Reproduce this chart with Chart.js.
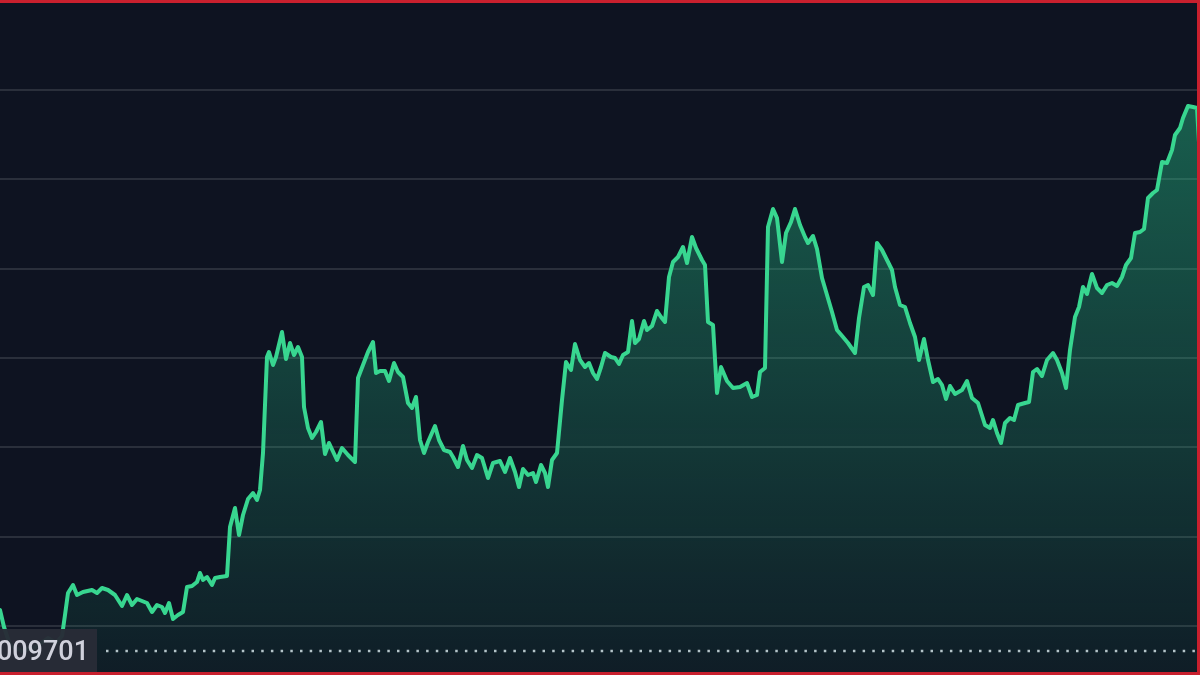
<!DOCTYPE html>
<html>
<head>
<meta charset="utf-8">
<script src="https://cdn.jsdelivr.net/npm/chart.js@4.4.1/dist/chart.umd.min.js"></script>
<style>
    html, body { margin: 0; padding: 0; background: #0e1321; }
    .wrap { position: relative; width: 1200px; height: 675px; overflow: hidden; }
    .frame {
        position: absolute; left: 0; top: 0; right: 0; bottom: 0;
        border-top: 3px solid #c8202e;
        border-right: 3px solid #c8202e;
        border-bottom: 3px solid #c8202e;
        pointer-events: none;
    }
</style>
</head>
<body>
<div class="wrap">
    <canvas id="priceChart" width="1200" height="675"></canvas>
    <div class="frame"></div>
</div>
<script>
// Time offsets (minutes from start) and price in units of 1e-8
const minutes = [
    0, 4, 10, 22, 36, 48, 56, 62, 65, 68, 73, 77, 83, 92, 97, 102, 108, 115, 122, 127,
    132, 137, 142, 147, 152, 157, 162, 165, 169, 173, 178, 183, 187, 192, 197, 200, 203, 207, 212, 215,
    220, 227, 230, 235, 239, 243, 248, 253, 257, 260, 263, 267, 269, 273, 276, 282, 286, 290, 294, 298,
    302, 304, 308, 312, 316, 321, 325, 329, 337, 342, 348, 355, 358, 363, 368, 373, 376, 380, 385, 389,
    394, 398, 403, 408, 412, 416, 420, 424, 428, 435, 439, 444, 450, 453, 458, 463, 467, 472, 477, 482,
    488, 493, 500, 505, 510, 515, 519, 523, 528, 533, 536, 541, 545, 548, 552, 557, 562, 566, 571, 575,
    580, 585, 589, 593, 597, 601, 605, 611, 615, 619, 623, 628, 632, 635, 639, 644, 647, 652, 657, 661,
    665, 669, 673, 678, 683, 687, 692, 696, 702, 705, 708, 713, 717, 721, 727, 733, 740, 747, 752, 757,
    760, 765, 768, 773, 777, 782, 786, 791, 795, 800, 805, 808, 813, 817, 822, 827, 832, 837, 843, 848,
    855, 859, 864, 868, 873, 877, 882, 887, 892, 895, 900, 905, 910, 915, 919, 924, 928, 933, 938, 942,
    946, 950, 955, 962, 967, 972, 978, 985, 990, 993, 997, 1001, 1005, 1010, 1014, 1018, 1025, 1029, 1033, 1037,
    1042, 1047, 1053, 1057, 1062, 1066, 1070, 1075, 1079, 1083, 1087, 1092, 1097, 1102, 1107, 1112, 1117, 1122, 1126, 1131,
    1135, 1140, 1144, 1148, 1153, 1157, 1162, 1167, 1172, 1175, 1180, 1183, 1188, 1193, 1197, 1200
];
const priceE8 = [
    97051, 97034, 97016, 97010, 97014, 97023, 97018, 97025, 97046, 97068, 97076, 97066, 97069, 97071, 97068, 97073, 97071, 97066, 97055, 97066,
    97056, 97062, 97060, 97058, 97049, 97056, 97054, 97048, 97058, 97042, 97046, 97049, 97074, 97075, 97079, 97088, 97081, 97084, 97076, 97083,
    97084, 97085, 97134, 97153, 97126, 97146, 97162, 97168, 97161, 97171, 97208, 97304, 97309, 97296, 97304, 97329, 97302, 97318, 97306, 97314,
    97304, 97254, 97233, 97223, 97229, 97239, 97207, 97218, 97201, 97213, 97206, 97199, 97283, 97296, 97309, 97319, 97288, 97290, 97290, 97280,
    97298, 97289, 97284, 97258, 97253, 97264, 97221, 97208, 97219, 97235, 97221, 97211, 97209, 97204, 97194, 97215, 97201, 97193, 97206, 97203,
    97183, 97198, 97200, 97189, 97203, 97189, 97174, 97192, 97186, 97188, 97179, 97196, 97188, 97174, 97201, 97208, 97261, 97299, 97291, 97317,
    97301, 97294, 97298, 97288, 97282, 97294, 97308, 97304, 97303, 97297, 97306, 97309, 97340, 97318, 97322, 97340, 97331, 97335, 97350, 97344,
    97339, 97384, 97399, 97404, 97414, 97398, 97424, 97413, 97401, 97396, 97339, 97336, 97268, 97294, 97280, 97273, 97274, 97278, 97264, 97266,
    97289, 97293, 97434, 97452, 97443, 97399, 97428, 97439, 97452, 97436, 97424, 97418, 97425, 97412, 97383, 97366, 97349, 97331, 97324, 97318,
    97308, 97343, 97374, 97376, 97366, 97418, 97411, 97401, 97391, 97374, 97356, 97354, 97338, 97324, 97301, 97322, 97301, 97279, 97282, 97276,
    97262, 97275, 97267, 97271, 97280, 97263, 97258, 97236, 97233, 97241, 97228, 97218, 97238, 97243, 97241, 97256, 97258, 97259, 97289, 97292,
    97285, 97301, 97308, 97301, 97288, 97273, 97311, 97344, 97354, 97374, 97367, 97387, 97373, 97368, 97376, 97378, 97375, 97384, 97396, 97403,
    97428, 97429, 97432, 97463, 97468, 97471, 97499, 97498, 97511, 97526, 97533, 97543, 97555, 97554, 97553, 97501
];
// Horizontal grid levels and the reference price (dotted line)
const gridLevels = [97035, 97124, 97214, 97303, 97392, 97482, 97571];
const refPrice = 97010;
const refStart = 106;

const lineColor = '#38d690';

const seriesPoints = minutes.map((m, i) => ({ x: m, y: priceE8[i] }));

// Price tag at the left end of the dotted reference line
const refLabelPlugin = {
    id: 'refLabel',
    afterDatasetsDraw(chart) {
        const ctx = chart.ctx;
        const y = chart.scales.y.getPixelForValue(refPrice);
        ctx.save();
        ctx.fillStyle = 'rgba(40, 44, 55, 0.97)';
        ctx.fillRect(0, y - 22, 97, 46);
        ctx.fillStyle = '#d0d1dc';
        ctx.font = '500 27px Roboto, "Open Sans", sans-serif';
        ctx.textAlign = 'right';
        ctx.textBaseline = 'middle';
        ctx.fillText((refPrice / 1e8).toFixed(7), 89, y + 2);
        ctx.restore();
    }
};

new Chart(document.getElementById('priceChart'), {
    type: 'line',
    data: {
        datasets: [{
            data: seriesPoints,
            borderColor: lineColor,
            borderWidth: 4,
            borderJoinStyle: 'round',
            borderCapStyle: 'round',
            tension: 0,
            pointRadius: 0,
            fill: 'start',
            backgroundColor: function(context) {
                const area = context.chart.chartArea;
                if (!area) return 'rgba(40, 200, 140, 0.2)';
                const g = context.chart.ctx.createLinearGradient(0, area.top + 100, 0, area.bottom);
                g.addColorStop(0, 'rgba(40, 200, 140, 0.42)');
                g.addColorStop(1, 'rgba(40, 200, 140, 0.06)');
                return g;
            }
        }, {
            data: [{ x: refStart, y: refPrice }, { x: minutes[minutes.length - 1], y: refPrice }],
            borderColor: '#c0c4ce',
            borderWidth: 2.5,
            borderDash: [2.5, 7.2],
            pointRadius: 0,
            fill: false
        }]
    },
    options: {
        responsive: false,
        animation: false,
        devicePixelRatio: 1,
        layout: { padding: 0 },
        plugins: {
            legend: { display: false },
            tooltip: { enabled: false }
        },
        scales: {
            x: {
                type: 'linear',
                min: 0,
                max: 1200,
                display: false
            },
            y: {
                min: 96986,
                max: 97661,
                afterBuildTicks: function(scale) {
                    scale.ticks = gridLevels.map(v => ({ value: v }));
                },
                grid: {
                    color: '#2a2f3b',
                    lineWidth: 2,
                    drawTicks: false
                },
                border: { display: false },
                ticks: { display: false }
            }
        }
    },
    plugins: [refLabelPlugin]
});
</script>
</body>
</html>
